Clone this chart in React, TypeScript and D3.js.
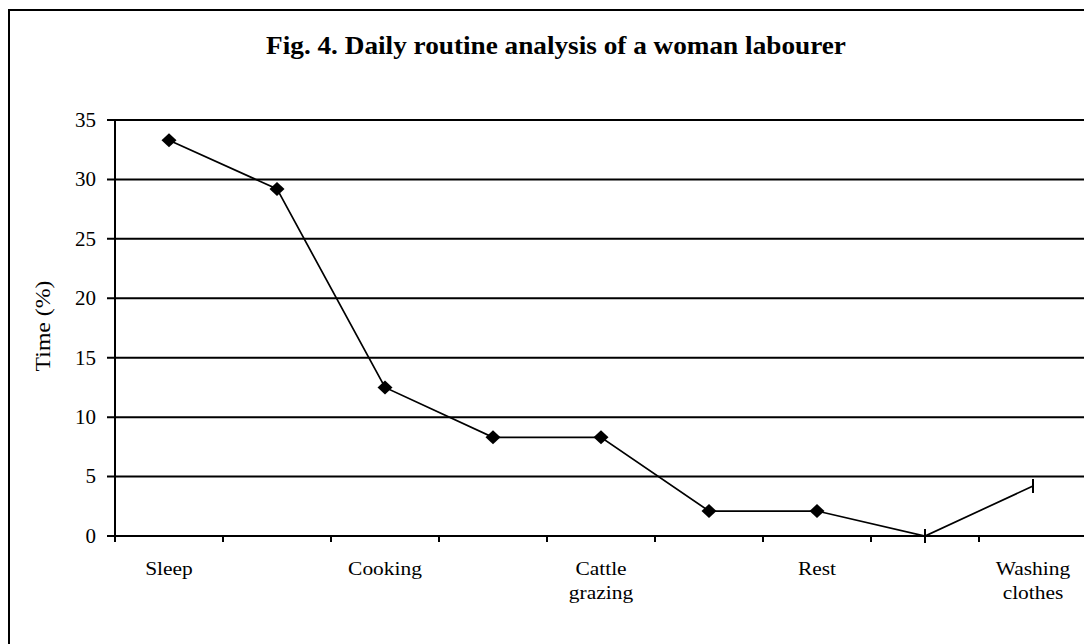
import React from "react";
import * as d3 from "d3";

const categories = ["Sleep", "", "Cooking", "", "Cattle\ngrazing", "", "Rest", "", "Washing\nclothes"];
const values = [33.3, 29.2, 12.5, 8.3, 8.3, 2.1, 2.1, 0, 4.2];
const markerTypes = ["diamond", "diamond", "diamond", "diamond", "diamond", "diamond", "diamond", "bar", "bar"];
const yTicks = [0, 5, 10, 15, 20, 25, 30, 35];
const title = "Fig. 4. Daily routine analysis of a woman labourer";
const yTitle = "Time (%)";

const W = 1084;
const H = 644;
const left = 115;
const right = 1087;
const top = 120;
const bottom = 536;
const FONT = "'Liberation Serif', 'Times New Roman', serif";

export default function App() {
  const x = d3.scaleBand<number>().domain(d3.range(categories.length)).range([left, right]).padding(0);
  const y = d3.scaleLinear().domain([0, 35]).range([bottom, top]);
  const cx = (i: number) => (x(i) as number) + x.bandwidth() / 2;
  const line = d3.line<number>().x((_, i) => cx(i)).y((d) => y(d));
  const tickXs = d3.range(categories.length + 1).map((i) => left + i * x.bandwidth());

  return (
    <svg width={W} height={H} style={{ position: "absolute", left: 0, top: 0, background: "#fff" }}>
      <rect x={0} y={0} width={W} height={H} fill="#fff" />
      <rect x={9} y={10} width={1200} height={800} fill="none" stroke="#000" strokeWidth={2} />
      <text
        transform={`translate(556,54) scale(1.09,1)`}
        textAnchor="middle"
        fontFamily={FONT}
        fontWeight="bold"
        fontSize={25}
        fill="#000"
      >
        {title}
      </text>
      {yTicks.map((t) => (
        <g key={t}>
          <line x1={107} x2={right} y1={y(t)} y2={y(t)} stroke="#000" strokeWidth={2} />
          <text
            transform={`translate(96,${y(t)}) scale(1.05,1)`}
            dy="0.34em"
            textAnchor="end"
            fontFamily={FONT}
            fontSize={20}
            fill="#000"
          >
            {t}
          </text>
        </g>
      ))}
      <line x1={left} x2={left} y1={top} y2={bottom} stroke="#000" strokeWidth={2} />
      {tickXs.map((tx, i) => (
        <line key={i} x1={tx} x2={tx} y1={bottom} y2={bottom + 6} stroke="#000" strokeWidth={2} />
      ))}
      <text
        transform={`translate(50,${(top + bottom) / 2 - 2}) rotate(-90) scale(1.08,1)`}
        textAnchor="middle"
        fontFamily={FONT}
        fontSize={22}
        fill="#000"
      >
        {yTitle}
      </text>
      {categories.map((c, i) =>
        c ? (
          <text
            key={i}
            transform={`translate(${cx(i)},575) scale(1.1,1)`}
            textAnchor="middle"
            fontFamily={FONT}
            fontSize={19.5}
            fill="#000"
          >
            {c.split("\n").map((ln, j) => (
              <tspan key={j} x={0} dy={j === 0 ? 0 : 24}>
                {ln}
              </tspan>
            ))}
          </text>
        ) : null
      )}
      <path d={line(values) as string} fill="none" stroke="#000" strokeWidth={1.7} />
      {values.map((v, i) =>
        markerTypes[i] === "diamond" ? (
          <path
            key={i}
            d={`M${cx(i)},${y(v) - 7}L${cx(i) + 7.5},${y(v)}L${cx(i)},${y(v) + 7}L${cx(i) - 7.5},${y(v)}Z`}
            fill="#000"
          />
        ) : (
          <line key={i} x1={cx(i)} x2={cx(i)} y1={y(v) - 7} y2={y(v) + 7} stroke="#000" strokeWidth={2} />
        )
      )}
    </svg>
  );
}
